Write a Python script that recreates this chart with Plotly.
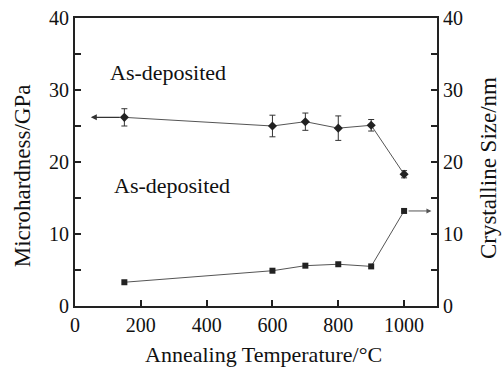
import plotly.graph_objects as go

temps = [150, 600, 700, 800, 900, 1000]
hardness = [26.2, 25.0, 25.6, 24.7, 25.1, 18.3]
hardness_err = [1.2, 1.5, 1.2, 1.7, 0.8, 0.5]
cryst_size = [3.3, 4.9, 5.6, 5.8, 5.5, 13.2]

hard_arrow_tip = 48
size_arrow_tip = 1083

x_ticks = [0, 200, 400, 600, 800, 1000]
y_ticks = [0, 10, 20, 30, 40]

FONT = "Liberation Serif, Times New Roman, serif"
TXT = "#111111"

fig = go.Figure()
fig.add_trace(go.Scatter(
    x=temps, y=hardness, mode="lines+markers",
    line=dict(color="#555555", width=1),
    marker=dict(symbol="diamond", size=7, color="#222222"),
    error_y=dict(type="data", array=hardness_err, visible=True,
                 color="#333333", thickness=1, width=3),
    showlegend=False, yaxis="y"))
fig.add_trace(go.Scatter(
    x=temps, y=cryst_size, mode="lines+markers",
    line=dict(color="#555555", width=1),
    marker=dict(symbol="square", size=6, color="#222222"),
    showlegend=False, yaxis="y2"))

fig.add_annotation(x=hard_arrow_tip, y=hardness[0], ax=temps[0], ay=hardness[0],
                   xref="x", yref="y", axref="x", ayref="y", text="",
                   showarrow=True, arrowhead=2, arrowsize=1, arrowwidth=1.2,
                   arrowcolor="#333333", standoff=0, startstandoff=3)
fig.add_annotation(x=size_arrow_tip, y=cryst_size[-1], ax=temps[-1], ay=cryst_size[-1],
                   xref="x", yref="y2", axref="x", ayref="y2", text="",
                   showarrow=True, arrowhead=2, arrowsize=1, arrowwidth=1,
                   arrowcolor="#555555", standoff=0, startstandoff=3)

fig.add_annotation(x=0.257, y=0.812, xref="paper", yref="paper", text="As-deposited",
                   xanchor="center", yanchor="middle",
                   showarrow=False, font=dict(family=FONT, size=22, color=TXT))
fig.add_annotation(x=0.268, y=0.417, xref="paper", yref="paper", text="As-deposited",
                   xanchor="center", yanchor="middle",
                   showarrow=False, font=dict(family=FONT, size=22, color=TXT))

# axis titles as paper annotations
fig.add_annotation(x=0.522, y=-0.170, xref="paper", yref="paper",
                   xanchor="center", yanchor="middle",
                   text="Annealing Temperature/°C", showarrow=False,
                   font=dict(family=FONT, size=22, color=TXT))
fig.add_annotation(x=-0.146, y=0.451, xref="paper", yref="paper", textangle=-90,
                   xanchor="center", yanchor="middle",
                   text="Microhardness/GPa", showarrow=False,
                   font=dict(family=FONT, size=23, color=TXT))
fig.add_annotation(x=1.141, y=0.479, xref="paper", yref="paper", textangle=-90,
                   xanchor="center", yanchor="middle",
                   text="Crystalline Size/nm", showarrow=False,
                   font=dict(family=FONT, size=23, color=TXT))

axis_common = dict(
    showgrid=False, zeroline=False, showline=True, linecolor="#222222",
    linewidth=2, ticks="inside", ticklen=6, tickwidth=1.5, tickcolor="#222222",
    tickfont=dict(family=FONT, size=20, color=TXT), automargin=False,
    ticklabeloverflow="allow",
)

fig.update_layout(
    width=503, height=372,
    margin=dict(l=75, r=66, t=18, b=66),
    paper_bgcolor="white", plot_bgcolor="white",
    xaxis=dict(range=[0, 1100], tickvals=x_ticks, mirror=True, **axis_common),
    yaxis=dict(range=[0, 40], tickvals=y_ticks,
               minor=dict(dtick=5, ticks="inside", ticklen=6, tickcolor="#222222"),
               **axis_common),
    yaxis2=dict(range=[0, 40], tickvals=y_ticks, overlaying="y", side="right",
                minor=dict(dtick=5, ticks="inside", ticklen=6, tickcolor="#222222"),
                **axis_common),
)

fig.write_html("out.html", config={"displayModeBar": False},
               post_script="document.body.style.margin='0';document.body.style.overflow='hidden';")
